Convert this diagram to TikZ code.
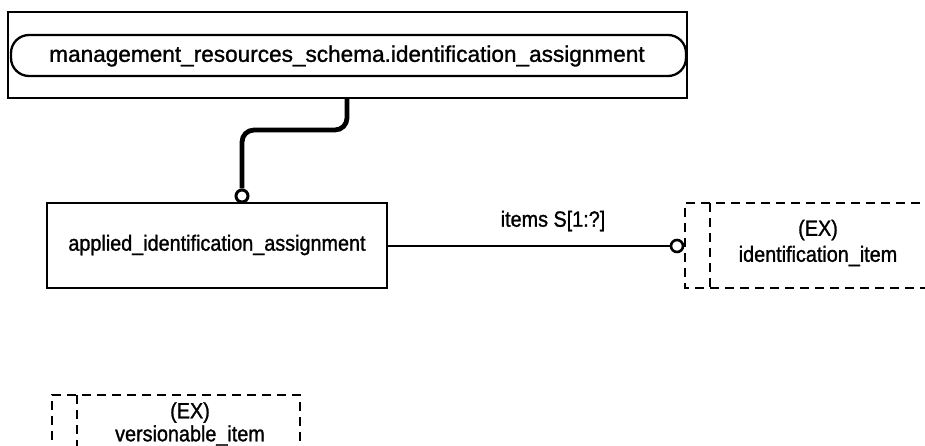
\documentclass[tikz,border=0pt]{standalone}
\usepackage{fontspec}
\setmainfont[FakeBold=1.2]{Liberation Sans}
\newfontfamily\narrowfont[FakeStretch=0.9,FakeBold=1.2]{Liberation Sans}
\begin{document}
\begin{tikzpicture}[x=1pt,y=-1pt,
  box/.style={draw,line width=2.3pt},
  dbox/.style={draw,line width=2.2pt,dash pattern=on 9pt off 6pt},
  txt/.style={inner sep=0pt,font=\narrowfont\fontsize{22}{26}\selectfont},
  bigtxt/.style={inner sep=0pt,font=\fontsize{22.6}{27}\selectfont}]
\useasboundingbox (0,0) rectangle (925,446);
% top schema box
\draw[box] (8,12) rectangle (687,98);
\draw[line width=2.3pt,rounded corners=18pt] (11,35) rectangle (686,76);
\node[bigtxt] (ref) at (347,56) {management\_resources\_schema.identification\_assignment};
\coordinate (reftop) at (347,98);
% applied box
\draw[box] (47,203) rectangle (387,288);
\node[txt] (app) at (217,245) {applied\_identification\_assignment};
\coordinate (appR) at (387,246);
% connector with circle
\node[circle,draw,line width=3pt,minimum size=12pt,inner sep=0pt,fill=white] (c1) at (242,196) {};
\draw[line width=4.8pt,rounded corners=12pt] (reftop) -- (347,130) -- (242,130) -- (c1.north);
% items connector
\node[circle,draw,line width=2.6pt,minimum size=12pt,inner sep=0pt,fill=white] (c2) at (677,246) {};
\draw[line width=2.2pt] (appR) -- (c2.west);
\node[txt] (lbl) at (553,221) {items S[1:?]};
% identification_item dashed box
\draw[dbox] (935,203) -- (685,203) -- (685,288) -- (935,288);
\draw[dbox] (710,203) -- (710,288);
\node[txt,align=center] (ex1) at (818,243) {(EX)\\identification\_item};
% versionable_item dashed box
\draw[dbox] (52,455) -- (52,395) -- (300,395) -- (300,455);
\draw[dbox] (77,395) -- (77,455);
\node[txt,align=center,font=\narrowfont\fontsize{22}{23}\selectfont] (ex2) at (190,424) {(EX)\\versionable\_item};
\end{tikzpicture}
\end{document}
